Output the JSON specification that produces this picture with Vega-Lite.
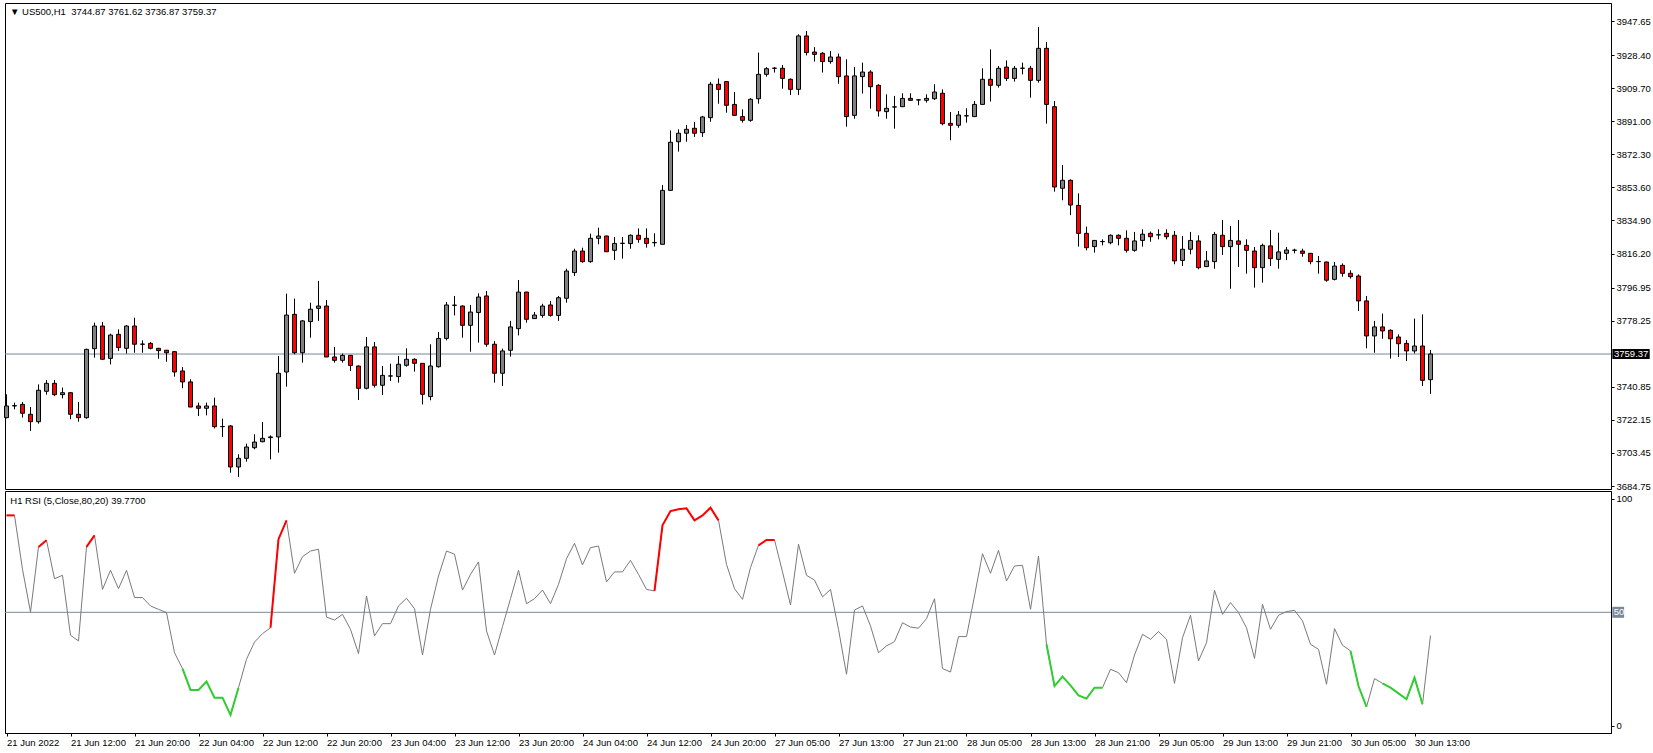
{
"$schema": "https://vega.github.io/schema/vega-lite/v6.json",
"padding": {"left": 2, "top": 2, "right": 0, "bottom": 0},
"bounds": "flush",
"background": "white",
"config": {
 "view": {"stroke": "black", "strokeWidth": 1},
 "font": "Liberation Sans",
 "scale": {"continuousPadding": 0},
 "axis": {"domainColor": "black", "tickColor": "black", "labelColor": "black", "labelFont": "Liberation Sans", "labelFontSize": 9.5, "grid": false, "title": null, "tickWidth": 1, "domainWidth": 1}
},
"data": {"values": [
{"i":0,"o":3723.4,"h":3736.6,"l":3723.0,"c":3730.0,"r":92.7,"z":"r1"},
{"i":1,"o":3730.0,"h":3731.9,"l":3728.1,"c":3730.2,"r":92.7,"z":"r1"},
{"i":2,"o":3730.9,"h":3732.2,"l":3723.4,"c":3725.9,"r":68.9},
{"i":3,"o":3725.3,"h":3729.4,"l":3715.9,"c":3721.1,"r":50.1},
{"i":4,"o":3721.1,"h":3742.2,"l":3720.0,"c":3738.9,"r":78.8,"z":"r2"},
{"i":5,"o":3738.3,"h":3744.7,"l":3736.4,"c":3742.8,"r":81.7,"z":"r2"},
{"i":6,"o":3742.8,"h":3744.7,"l":3735.6,"c":3736.4,"r":64.8},
{"i":7,"o":3736.4,"h":3740.4,"l":3734.3,"c":3737.5,"r":66.3},
{"i":8,"o":3737.5,"h":3737.8,"l":3722.5,"c":3725.3,"r":39.9},
{"i":9,"o":3725.3,"h":3732.2,"l":3721.1,"c":3723.4,"r":37.4},
{"i":10,"o":3723.4,"h":3762.4,"l":3722.8,"c":3762.0,"r":78.8,"z":"r3"},
{"i":11,"o":3762.4,"h":3777.1,"l":3757.3,"c":3775.2,"r":83.9,"z":"r3"},
{"i":12,"o":3775.2,"h":3777.5,"l":3756.4,"c":3756.4,"r":60.1},
{"i":13,"o":3756.9,"h":3770.9,"l":3753.5,"c":3770.1,"r":68.5},
{"i":14,"o":3770.5,"h":3773.3,"l":3761.1,"c":3763.0,"r":60.4},
{"i":15,"o":3762.6,"h":3775.8,"l":3759.6,"c":3775.2,"r":68.5},
{"i":16,"o":3775.2,"h":3779.9,"l":3760.1,"c":3764.9,"r":56.5},
{"i":17,"o":3764.9,"h":3767.1,"l":3760.1,"c":3765.0,"r":56.5},
{"i":18,"o":3765.4,"h":3766.2,"l":3762.0,"c":3762.6,"r":52.8},
{"i":19,"o":3762.6,"h":3762.8,"l":3756.7,"c":3761.3,"r":51.3},
{"i":20,"o":3761.5,"h":3761.7,"l":3755.0,"c":3760.1,"r":49.9},
{"i":21,"o":3760.7,"h":3761.1,"l":3746.6,"c":3749.2,"r":32.2},
{"i":22,"o":3749.8,"h":3752.0,"l":3740.0,"c":3743.6,"r":25.2,"z":"g1"},
{"i":23,"o":3743.6,"h":3745.1,"l":3729.4,"c":3729.4,"r":15.8,"z":"g1"},
{"i":24,"o":3730.0,"h":3731.9,"l":3724.3,"c":3728.7,"r":15.8,"z":"g1"},
{"i":25,"o":3728.7,"h":3731.9,"l":3724.7,"c":3730.0,"r":19.5,"z":"g1"},
{"i":26,"o":3730.0,"h":3734.7,"l":3717.3,"c":3718.3,"r":12.4,"z":"g1"},
{"i":27,"o":3718.3,"h":3722.8,"l":3712.5,"c":3718.4,"r":12.4,"z":"g1"},
{"i":28,"o":3718.7,"h":3719.2,"l":3692.3,"c":3695.5,"r":4.8,"z":"g1"},
{"i":29,"o":3695.5,"h":3702.7,"l":3689.9,"c":3700.4,"r":16.8,"z":"g1"},
{"i":30,"o":3700.4,"h":3708.7,"l":3698.5,"c":3706.8,"r":29.3},
{"i":31,"o":3706.4,"h":3714.0,"l":3705.5,"c":3709.6,"r":36.9},
{"i":32,"o":3709.8,"h":3720.9,"l":3709.5,"c":3711.7,"r":40.6},
{"i":33,"o":3712.1,"h":3713.4,"l":3699.8,"c":3712.5,"r":43.2,"z":"r4"},
{"i":34,"o":3712.5,"h":3758.3,"l":3703.6,"c":3748.5,"r":82.2,"z":"r4"},
{"i":35,"o":3749.2,"h":3793.5,"l":3740.9,"c":3781.4,"r":90.5,"z":"r4"},
{"i":36,"o":3781.8,"h":3790.7,"l":3759.2,"c":3760.1,"r":67.2},
{"i":37,"o":3760.1,"h":3778.6,"l":3754.5,"c":3778.1,"r":74.5},
{"i":38,"o":3777.7,"h":3788.4,"l":3768.6,"c":3784.7,"r":77.0},
{"i":39,"o":3785.2,"h":3800.7,"l":3778.1,"c":3786.5,"r":77.8},
{"i":40,"o":3786.5,"h":3789.9,"l":3757.7,"c":3757.7,"r":47.9},
{"i":41,"o":3757.7,"h":3763.4,"l":3754.5,"c":3755.8,"r":46.6},
{"i":42,"o":3755.8,"h":3759.6,"l":3754.5,"c":3758.6,"r":49.1},
{"i":43,"o":3758.6,"h":3758.8,"l":3749.8,"c":3752.9,"r":42.5},
{"i":44,"o":3752.6,"h":3752.9,"l":3733.4,"c":3740.0,"r":31.8},
{"i":45,"o":3740.0,"h":3769.0,"l":3739.4,"c":3763.4,"r":57.2},
{"i":46,"o":3763.4,"h":3766.2,"l":3740.4,"c":3741.7,"r":39.6},
{"i":47,"o":3741.7,"h":3752.6,"l":3736.2,"c":3747.3,"r":45.0},
{"i":48,"o":3746.9,"h":3753.9,"l":3744.1,"c":3747.0,"r":45.0},
{"i":49,"o":3746.6,"h":3758.3,"l":3743.2,"c":3753.6,"r":52.8},
{"i":50,"o":3753.0,"h":3762.6,"l":3752.2,"c":3756.4,"r":56.2},
{"i":51,"o":3756.4,"h":3756.9,"l":3749.4,"c":3754.1,"r":51.6},
{"i":52,"o":3754.1,"h":3754.3,"l":3730.9,"c":3736.6,"r":31.2},
{"i":53,"o":3735.3,"h":3764.9,"l":3733.2,"c":3752.6,"r":51.3},
{"i":54,"o":3752.2,"h":3771.8,"l":3751.7,"c":3768.2,"r":66.0},
{"i":55,"o":3768.2,"h":3788.8,"l":3767.1,"c":3787.1,"r":77.0},
{"i":56,"o":3786.9,"h":3792.2,"l":3781.2,"c":3787.0,"r":75.6},
{"i":57,"o":3786.5,"h":3786.9,"l":3768.6,"c":3775.6,"r":59.8},
{"i":58,"o":3775.6,"h":3787.1,"l":3760.7,"c":3783.1,"r":66.7},
{"i":59,"o":3782.8,"h":3793.7,"l":3765.8,"c":3791.6,"r":72.2},
{"i":60,"o":3792.2,"h":3795.0,"l":3763.5,"c":3764.9,"r":41.8},
{"i":61,"o":3764.9,"h":3766.7,"l":3743.2,"c":3748.5,"r":31.2},
{"i":62,"o":3748.5,"h":3762.4,"l":3741.3,"c":3761.1,"r":43.7},
{"i":63,"o":3761.5,"h":3778.1,"l":3757.9,"c":3774.7,"r":56.0},
{"i":64,"o":3773.7,"h":3801.2,"l":3769.9,"c":3794.4,"r":68.5},
{"i":65,"o":3794.4,"h":3794.6,"l":3777.1,"c":3779.0,"r":53.8},
{"i":66,"o":3779.4,"h":3783.1,"l":3779.2,"c":3781.4,"r":56.0},
{"i":67,"o":3781.2,"h":3787.8,"l":3779.9,"c":3786.5,"r":59.8},
{"i":68,"o":3787.1,"h":3789.4,"l":3780.5,"c":3781.2,"r":53.8},
{"i":69,"o":3781.2,"h":3792.2,"l":3778.1,"c":3791.2,"r":62.3},
{"i":70,"o":3790.9,"h":3807.6,"l":3788.4,"c":3806.3,"r":73.6},
{"i":71,"o":3805.4,"h":3818.9,"l":3803.5,"c":3817.6,"r":80.4},
{"i":72,"o":3817.6,"h":3819.5,"l":3811.0,"c":3811.6,"r":70.9},
{"i":73,"o":3811.6,"h":3827.4,"l":3811.0,"c":3824.8,"r":78.5},
{"i":74,"o":3824.8,"h":3830.8,"l":3821.4,"c":3826.1,"r":79.2},
{"i":75,"o":3826.1,"h":3826.3,"l":3817.2,"c":3817.2,"r":63.4},
{"i":76,"o":3818.0,"h":3825.5,"l":3812.5,"c":3821.9,"r":67.8},
{"i":77,"o":3821.9,"h":3825.5,"l":3813.3,"c":3822.0,"r":67.8},
{"i":78,"o":3821.8,"h":3827.0,"l":3818.9,"c":3826.5,"r":72.9},
{"i":79,"o":3826.5,"h":3830.4,"l":3822.3,"c":3824.2,"r":66.7},
{"i":80,"o":3824.8,"h":3830.4,"l":3819.5,"c":3821.9,"r":60.1},
{"i":81,"o":3822.3,"h":3827.6,"l":3820.1,"c":3822.4,"r":59.4,"z":"r5"},
{"i":82,"o":3821.4,"h":3854.9,"l":3821.2,"c":3851.9,"r":88.3,"z":"r5"},
{"i":83,"o":3851.9,"h":3885.8,"l":3851.7,"c":3879.1,"r":94.6,"z":"r5"},
{"i":84,"o":3879.4,"h":3886.4,"l":3873.8,"c":3884.2,"r":95.4,"z":"r5"},
{"i":85,"o":3884.2,"h":3888.9,"l":3879.4,"c":3886.4,"r":95.8,"z":"r5"},
{"i":86,"o":3887.0,"h":3890.6,"l":3882.1,"c":3884.2,"r":90.5,"z":"r5"},
{"i":87,"o":3884.5,"h":3894.0,"l":3882.1,"c":3893.4,"r":92.7,"z":"r5"},
{"i":88,"o":3893.0,"h":3913.2,"l":3890.7,"c":3911.9,"r":96.1,"z":"r5"},
{"i":89,"o":3911.9,"h":3915.2,"l":3900.9,"c":3909.0,"r":90.5,"z":"r5"},
{"i":90,"o":3913.4,"h":3913.6,"l":3895.8,"c":3900.0,"r":71.1},
{"i":91,"o":3900.5,"h":3907.5,"l":3894.3,"c":3894.3,"r":60.4},
{"i":92,"o":3893.6,"h":3897.7,"l":3890.2,"c":3891.5,"r":55.7},
{"i":93,"o":3891.5,"h":3904.0,"l":3890.7,"c":3903.4,"r":69.7},
{"i":94,"o":3903.7,"h":3929.8,"l":3900.9,"c":3917.5,"r":79.5,"z":"r6"},
{"i":95,"o":3917.5,"h":3921.6,"l":3916.2,"c":3920.7,"r":81.9,"z":"r6"},
{"i":96,"o":3920.9,"h":3921.6,"l":3918.5,"c":3921.0,"r":81.9,"z":"r6"},
{"i":97,"o":3920.9,"h":3922.8,"l":3909.4,"c":3915.2,"r":67.8},
{"i":98,"o":3914.7,"h":3915.2,"l":3905.8,"c":3909.0,"r":53.2},
{"i":99,"o":3909.0,"h":3940.1,"l":3905.8,"c":3939.2,"r":80.0},
{"i":100,"o":3939.2,"h":3942.0,"l":3928.2,"c":3929.8,"r":66.3},
{"i":101,"o":3930.1,"h":3932.9,"l":3924.7,"c":3928.8,"r":64.2},
{"i":102,"o":3929.4,"h":3930.1,"l":3918.5,"c":3924.7,"r":56.8},
{"i":103,"o":3924.7,"h":3930.7,"l":3923.5,"c":3927.3,"r":60.1},
{"i":104,"o":3927.3,"h":3929.2,"l":3912.2,"c":3916.2,"r":42.5},
{"i":105,"o":3916.6,"h":3926.0,"l":3887.9,"c":3893.6,"r":22.7},
{"i":106,"o":3894.3,"h":3921.6,"l":3892.4,"c":3916.6,"r":51.0},
{"i":107,"o":3916.2,"h":3924.1,"l":3906.6,"c":3918.8,"r":52.8},
{"i":108,"o":3918.8,"h":3919.8,"l":3898.1,"c":3910.5,"r":44.0},
{"i":109,"o":3911.3,"h":3911.9,"l":3893.6,"c":3896.8,"r":32.2},
{"i":110,"o":3896.4,"h":3906.2,"l":3892.4,"c":3898.3,"r":35.2},
{"i":111,"o":3899.0,"h":3905.3,"l":3886.8,"c":3899.1,"r":37.1},
{"i":112,"o":3899.2,"h":3906.8,"l":3899.0,"c":3903.9,"r":45.4},
{"i":113,"o":3903.9,"h":3906.8,"l":3902.8,"c":3902.8,"r":43.5},
{"i":114,"o":3903.0,"h":3903.3,"l":3900.0,"c":3903.1,"r":43.0},
{"i":115,"o":3902.8,"h":3906.2,"l":3901.5,"c":3903.9,"r":47.2},
{"i":116,"o":3903.7,"h":3911.9,"l":3903.0,"c":3907.5,"r":56.0},
{"i":117,"o":3906.8,"h":3909.0,"l":3888.7,"c":3889.6,"r":25.2},
{"i":118,"o":3889.8,"h":3896.2,"l":3880.2,"c":3888.7,"r":23.7},
{"i":119,"o":3888.7,"h":3896.8,"l":3887.3,"c":3894.5,"r":39.3},
{"i":120,"o":3894.0,"h":3898.3,"l":3890.2,"c":3894.1,"r":39.3},
{"i":121,"o":3893.6,"h":3902.4,"l":3893.4,"c":3900.5,"r":57.2},
{"i":122,"o":3900.5,"h":3920.9,"l":3900.3,"c":3914.7,"r":75.8},
{"i":123,"o":3914.7,"h":3931.6,"l":3902.1,"c":3911.3,"r":67.2},
{"i":124,"o":3911.3,"h":3922.2,"l":3910.0,"c":3920.9,"r":77.3},
{"i":125,"o":3921.6,"h":3925.4,"l":3913.7,"c":3915.2,"r":63.8},
{"i":126,"o":3915.2,"h":3922.2,"l":3913.4,"c":3920.9,"r":70.4},
{"i":127,"o":3920.9,"h":3924.1,"l":3917.5,"c":3921.0,"r":70.7},
{"i":128,"o":3920.9,"h":3922.2,"l":3904.3,"c":3914.1,"r":51.3},
{"i":129,"o":3914.1,"h":3944.3,"l":3912.8,"c":3932.2,"r":74.8},
{"i":130,"o":3932.2,"h":3935.8,"l":3889.6,"c":3900.5,"r":35.9,"z":"g2"},
{"i":131,"o":3899.2,"h":3902.4,"l":3851.2,"c":3853.8,"r":17.5,"z":"g2"},
{"i":132,"o":3853.1,"h":3866.2,"l":3846.3,"c":3857.6,"r":21.7,"z":"g2"},
{"i":133,"o":3857.6,"h":3858.1,"l":3837.9,"c":3843.6,"r":17.8,"z":"g2"},
{"i":134,"o":3843.4,"h":3850.2,"l":3820.1,"c":3827.6,"r":13.4,"z":"g2"},
{"i":135,"o":3827.6,"h":3831.4,"l":3818.0,"c":3819.5,"r":12.0,"z":"g2"},
{"i":136,"o":3820.1,"h":3823.8,"l":3816.7,"c":3823.6,"r":16.8,"z":"g2"},
{"i":137,"o":3822.9,"h":3824.2,"l":3820.8,"c":3823.0,"r":16.8,"z":"g2"},
{"i":138,"o":3822.3,"h":3827.0,"l":3821.4,"c":3826.5,"r":24.9},
{"i":139,"o":3826.5,"h":3827.0,"l":3820.8,"c":3824.8,"r":23.4},
{"i":140,"o":3824.8,"h":3829.3,"l":3816.7,"c":3818.0,"r":19.0},
{"i":141,"o":3818.0,"h":3828.4,"l":3817.2,"c":3823.3,"r":31.2},
{"i":142,"o":3823.6,"h":3829.9,"l":3820.1,"c":3827.1,"r":40.3},
{"i":143,"o":3827.6,"h":3828.6,"l":3822.9,"c":3825.7,"r":38.1},
{"i":144,"o":3826.7,"h":3829.9,"l":3824.2,"c":3826.8,"r":41.5},
{"i":145,"o":3827.6,"h":3829.9,"l":3824.2,"c":3825.7,"r":38.1},
{"i":146,"o":3826.5,"h":3828.9,"l":3810.1,"c":3812.0,"r":18.7},
{"i":147,"o":3812.3,"h":3826.1,"l":3809.1,"c":3818.6,"r":38.8},
{"i":148,"o":3818.6,"h":3828.4,"l":3815.7,"c":3823.6,"r":48.7},
{"i":149,"o":3823.3,"h":3826.5,"l":3807.3,"c":3808.2,"r":28.6},
{"i":150,"o":3808.8,"h":3817.6,"l":3808.6,"c":3812.0,"r":36.6},
{"i":151,"o":3811.6,"h":3828.4,"l":3807.6,"c":3827.0,"r":59.7},
{"i":152,"o":3826.5,"h":3835.1,"l":3815.4,"c":3820.1,"r":49.1},
{"i":153,"o":3820.1,"h":3831.8,"l":3796.3,"c":3823.6,"r":54.3},
{"i":154,"o":3823.3,"h":3835.1,"l":3808.6,"c":3821.4,"r":49.9},
{"i":155,"o":3820.8,"h":3824.2,"l":3804.8,"c":3818.0,"r":43.2},
{"i":156,"o":3817.6,"h":3819.9,"l":3796.9,"c":3808.2,"r":29.7},
{"i":157,"o":3808.2,"h":3821.8,"l":3799.7,"c":3820.8,"r":53.5},
{"i":158,"o":3820.5,"h":3829.5,"l":3809.1,"c":3813.3,"r":42.5},
{"i":159,"o":3812.9,"h":3828.0,"l":3807.6,"c":3817.1,"r":48.7},
{"i":160,"o":3816.3,"h":3819.9,"l":3812.5,"c":3818.2,"r":50.3},
{"i":161,"o":3818.0,"h":3818.9,"l":3816.3,"c":3818.1,"r":50.9},
{"i":162,"o":3817.6,"h":3818.9,"l":3814.4,"c":3816.3,"r":46.2},
{"i":163,"o":3816.3,"h":3816.5,"l":3810.1,"c":3811.6,"r":35.9},
{"i":164,"o":3811.6,"h":3814.8,"l":3804.8,"c":3811.7,"r":33.7},
{"i":165,"o":3811.4,"h":3811.6,"l":3800.3,"c":3801.1,"r":18.3},
{"i":166,"o":3801.6,"h":3811.4,"l":3801.0,"c":3809.1,"r":42.8},
{"i":167,"o":3809.5,"h":3810.6,"l":3803.1,"c":3805.0,"r":35.5},
{"i":168,"o":3805.0,"h":3806.7,"l":3802.0,"c":3803.1,"r":33.0,"z":"g3"},
{"i":169,"o":3803.5,"h":3804.4,"l":3783.7,"c":3789.4,"r":17.5,"z":"g3"},
{"i":170,"o":3789.4,"h":3792.2,"l":3762.6,"c":3769.6,"r":8.3,"z":"g3"},
{"i":171,"o":3769.6,"h":3778.1,"l":3760.1,"c":3774.7,"r":20.8},
{"i":172,"o":3774.7,"h":3782.2,"l":3768.0,"c":3772.4,"r":18.7,"z":"g4"},
{"i":173,"o":3772.8,"h":3773.3,"l":3756.8,"c":3768.0,"r":16.8,"z":"g4"},
{"i":174,"o":3769.0,"h":3770.5,"l":3757.7,"c":3765.2,"r":14.3,"z":"g4"},
{"i":175,"o":3765.4,"h":3767.3,"l":3755.4,"c":3761.1,"r":11.7,"z":"g4"},
{"i":176,"o":3761.1,"h":3779.4,"l":3759.7,"c":3763.9,"r":21.2,"z":"g4"},
{"i":177,"o":3763.9,"h":3781.8,"l":3741.3,"c":3744.5,"r":9.5,"z":"g4"},
{"i":178,"o":3744.87,"h":3761.62,"l":3736.87,"c":3759.37,"r":39.77}
]},
"spacing": 2,
"vconcat": [
 {
  "width": 1606, "height": 486,
  "layer": [
   {"transform": [{"filter": "datum.i == 178"}],
    "mark": {"type": "rule", "color": "#778899", "strokeWidth": 1},
    "encoding": {"y": {"field": "c", "type": "quantitative", "scale": {"domain": [3683.06, 3957.83], "nice": false, "zero": false, "padding": 0},
      "axis": {"orient": "right", "values": [3684.75, 3703.45, 3722.15, 3740.85, 3778.25, 3796.95, 3816.2, 3834.9, 3853.6, 3872.3, 3891.0, 3909.7, 3928.4, 3947.65], "format": ".2f", "tickSize": 3, "labelPadding": 2, "labelBaseline": "middle", "labelFlush": false, "labelOverlap": false}}}},
   {"mark": {"type": "rule", "color": "black", "strokeWidth": 1},
    "encoding": {"x": {"field": "i", "type": "quantitative", "scale": {"domain": [-0.1875, 200.5625], "nice": false, "zero": false, "padding": 0}, "axis": null},
      "y": {"field": "l", "type": "quantitative", "scale": {"domain": [3683.06, 3957.83], "nice": false, "zero": false, "padding": 0},
      "axis": {"orient": "right", "values": [3684.75, 3703.45, 3722.15, 3740.85, 3778.25, 3796.95, 3816.2, 3834.9, 3853.6, 3872.3, 3891.0, 3909.7, 3928.4, 3947.65], "format": ".2f", "tickSize": 3, "labelPadding": 2, "labelBaseline": "middle", "labelFlush": false, "labelOverlap": false}}, "y2": {"field": "h"}}},
   {"mark": {"type": "bar", "size": 4, "stroke": "black", "strokeWidth": 1, "orient": "vertical"},
    "encoding": {"x": {"field": "i", "type": "quantitative", "scale": {"domain": [-0.1875, 200.5625], "nice": false, "zero": false, "padding": 0}, "axis": null},
      "y": {"field": "o", "type": "quantitative", "scale": {"domain": [3683.06, 3957.83], "nice": false, "zero": false, "padding": 0},
      "axis": {"orient": "right", "values": [3684.75, 3703.45, 3722.15, 3740.85, 3778.25, 3796.95, 3816.2, 3834.9, 3853.6, 3872.3, 3891.0, 3909.7, 3928.4, 3947.65], "format": ".2f", "tickSize": 3, "labelPadding": 2, "labelBaseline": "middle", "labelFlush": false, "labelOverlap": false}}, "y2": {"field": "c"},
      "fill": {"condition": {"test": "datum.c < datum.o", "value": "#ff0000"}, "value": "#808080"}}},
   {"transform": [{"filter": "datum.i == 178"}],
    "mark": {"type": "bar", "size": 10, "color": "black", "orient": "horizontal"},
    "encoding": {"x": {"datum": 200.73, "type": "quantitative", "scale": {"domain": [-0.1875, 200.5625], "nice": false, "zero": false, "padding": 0}, "axis": null}, "x2": {"datum": 205.4},
      "y": {"field": "c", "type": "quantitative", "scale": {"domain": [3683.06, 3957.83], "nice": false, "zero": false, "padding": 0},
      "axis": {"orient": "right", "values": [3684.75, 3703.45, 3722.15, 3740.85, 3778.25, 3796.95, 3816.2, 3834.9, 3853.6, 3872.3, 3891.0, 3909.7, 3928.4, 3947.65], "format": ".2f", "tickSize": 3, "labelPadding": 2, "labelBaseline": "middle", "labelFlush": false, "labelOverlap": false}}}},
   {"transform": [{"filter": "datum.i == 178"}],
    "mark": {"type": "text", "align": "left", "baseline": "middle", "color": "white", "fontSize": 9.5, "font": "Liberation Sans"},
    "encoding": {"x": {"datum": 200.94, "type": "quantitative", "scale": {"domain": [-0.1875, 200.5625], "nice": false, "zero": false, "padding": 0}, "axis": null},
      "y": {"field": "c", "type": "quantitative", "scale": {"domain": [3683.06, 3957.83], "nice": false, "zero": false, "padding": 0},
      "axis": {"orient": "right", "values": [3684.75, 3703.45, 3722.15, 3740.85, 3778.25, 3796.95, 3816.2, 3834.9, 3853.6, 3872.3, 3891.0, 3909.7, 3928.4, 3947.65], "format": ".2f", "tickSize": 3, "labelPadding": 2, "labelBaseline": "middle", "labelFlush": false, "labelOverlap": false}},
      "text": {"field": "c", "type": "quantitative", "format": ".2f"}}},
   {"transform": [{"filter": "datum.i == 178"}],
    "mark": {"type": "text", "align": "left", "baseline": "middle", "color": "black", "fontSize": 9.5, "font": "Liberation Sans, DejaVu Sans"},
    "encoding": {"x": {"datum": 0.44, "type": "quantitative", "scale": {"domain": [-0.1875, 200.5625], "nice": false, "zero": false, "padding": 0}, "axis": null},
      "y": {"datum": 3953.0, "type": "quantitative", "scale": {"domain": [3683.06, 3957.83], "nice": false, "zero": false, "padding": 0},
      "axis": {"orient": "right", "values": [3684.75, 3703.45, 3722.15, 3740.85, 3778.25, 3796.95, 3816.2, 3834.9, 3853.6, 3872.3, 3891.0, 3909.7, 3928.4, 3947.65], "format": ".2f", "tickSize": 3, "labelPadding": 2, "labelBaseline": "middle", "labelFlush": false, "labelOverlap": false}},
      "text": {"value": "▼ US500,H1\u00a0 3744.87 3761.62 3736.87 3759.37"}}}
  ]
 },
 {
  "width": 1606, "height": 242,
  "layer": [
   {"transform": [{"filter": "datum.i == 178"}],
    "mark": {"type": "rule", "color": "#778899", "strokeWidth": 1},
    "encoding": {"y": {"datum": 50, "type": "quantitative", "scale": {"domain": [-3.17, 103.44], "nice": false, "zero": false, "padding": 0},
      "axis": {"orient": "right", "values": [0, 100], "tickSize": 3, "labelPadding": 2, "labelBaseline": "middle", "labelFlush": false, "labelOverlap": false}}}},
   {"mark": {"type": "line", "color": "#7a7a7a", "strokeWidth": 1},
    "encoding": {"x": {"field": "i", "type": "quantitative", "scale": {"domain": [-0.1875, 200.5625], "nice": false, "zero": false, "padding": 0},
      "axis": {"values": [0,8,16,24,32,40,48,56,64,72,80,88,96,104,112,120,128,136,144,152,160,168,176], "tickSize": 3, "labelPadding": 6, "labelAlign": "left", "labelBaseline": "middle", "labelDx": -1, "labelFlush": false, "labelOverlap": false, "labelBound": false,
       "labelExpr": "['21 Jun 2022','21 Jun 12:00','21 Jun 20:00','22 Jun 04:00','22 Jun 12:00','22 Jun 20:00','23 Jun 04:00','23 Jun 12:00','23 Jun 20:00','24 Jun 04:00','24 Jun 12:00','24 Jun 20:00','27 Jun 05:00','27 Jun 13:00','27 Jun 21:00','28 Jun 05:00','28 Jun 13:00','28 Jun 21:00','29 Jun 05:00','29 Jun 13:00','29 Jun 21:00','30 Jun 05:00','30 Jun 13:00'][round(datum.value/8)]"}},
      "y": {"field": "r", "type": "quantitative", "scale": {"domain": [-3.17, 103.44], "nice": false, "zero": false, "padding": 0},
      "axis": {"orient": "right", "values": [0, 100], "tickSize": 3, "labelPadding": 2, "labelBaseline": "middle", "labelFlush": false, "labelOverlap": false}}}},
   {"transform": [{"filter": {"field": "z", "oneOf": ["r1","r2","r3","r4","r5","r6"]}}],
    "mark": {"type": "line", "color": "#ff0000", "strokeWidth": 2},
    "encoding": {"x": {"field": "i", "type": "quantitative", "scale": {"domain": [-0.1875, 200.5625], "nice": false, "zero": false, "padding": 0},
      "axis": {"values": [0,8,16,24,32,40,48,56,64,72,80,88,96,104,112,120,128,136,144,152,160,168,176], "tickSize": 3, "labelPadding": 6, "labelAlign": "left", "labelBaseline": "middle", "labelDx": -1, "labelFlush": false, "labelOverlap": false, "labelBound": false,
       "labelExpr": "['21 Jun 2022','21 Jun 12:00','21 Jun 20:00','22 Jun 04:00','22 Jun 12:00','22 Jun 20:00','23 Jun 04:00','23 Jun 12:00','23 Jun 20:00','24 Jun 04:00','24 Jun 12:00','24 Jun 20:00','27 Jun 05:00','27 Jun 13:00','27 Jun 21:00','28 Jun 05:00','28 Jun 13:00','28 Jun 21:00','29 Jun 05:00','29 Jun 13:00','29 Jun 21:00','30 Jun 05:00','30 Jun 13:00'][round(datum.value/8)]"}},
      "y": {"field": "r", "type": "quantitative", "scale": {"domain": [-3.17, 103.44], "nice": false, "zero": false, "padding": 0},
      "axis": {"orient": "right", "values": [0, 100], "tickSize": 3, "labelPadding": 2, "labelBaseline": "middle", "labelFlush": false, "labelOverlap": false}}, "detail": {"field": "z"}}},
   {"transform": [{"filter": {"field": "z", "oneOf": ["g1","g2","g3","g4"]}}],
    "mark": {"type": "line", "color": "#32cd32", "strokeWidth": 2},
    "encoding": {"x": {"field": "i", "type": "quantitative", "scale": {"domain": [-0.1875, 200.5625], "nice": false, "zero": false, "padding": 0},
      "axis": {"values": [0,8,16,24,32,40,48,56,64,72,80,88,96,104,112,120,128,136,144,152,160,168,176], "tickSize": 3, "labelPadding": 6, "labelAlign": "left", "labelBaseline": "middle", "labelDx": -1, "labelFlush": false, "labelOverlap": false, "labelBound": false,
       "labelExpr": "['21 Jun 2022','21 Jun 12:00','21 Jun 20:00','22 Jun 04:00','22 Jun 12:00','22 Jun 20:00','23 Jun 04:00','23 Jun 12:00','23 Jun 20:00','24 Jun 04:00','24 Jun 12:00','24 Jun 20:00','27 Jun 05:00','27 Jun 13:00','27 Jun 21:00','28 Jun 05:00','28 Jun 13:00','28 Jun 21:00','29 Jun 05:00','29 Jun 13:00','29 Jun 21:00','30 Jun 05:00','30 Jun 13:00'][round(datum.value/8)]"}},
      "y": {"field": "r", "type": "quantitative", "scale": {"domain": [-3.17, 103.44], "nice": false, "zero": false, "padding": 0},
      "axis": {"orient": "right", "values": [0, 100], "tickSize": 3, "labelPadding": 2, "labelBaseline": "middle", "labelFlush": false, "labelOverlap": false}}, "detail": {"field": "z"}}},
   {"transform": [{"filter": "datum.i == 178"}],
    "mark": {"type": "bar", "size": 11, "color": "#778899", "orient": "horizontal"},
    "encoding": {"x": {"datum": 200.73, "type": "quantitative", "scale": {"domain": [-0.1875, 200.5625], "nice": false, "zero": false, "padding": 0},
      "axis": {"values": [0,8,16,24,32,40,48,56,64,72,80,88,96,104,112,120,128,136,144,152,160,168,176], "tickSize": 3, "labelPadding": 6, "labelAlign": "left", "labelBaseline": "middle", "labelDx": -1, "labelFlush": false, "labelOverlap": false, "labelBound": false,
       "labelExpr": "['21 Jun 2022','21 Jun 12:00','21 Jun 20:00','22 Jun 04:00','22 Jun 12:00','22 Jun 20:00','23 Jun 04:00','23 Jun 12:00','23 Jun 20:00','24 Jun 04:00','24 Jun 12:00','24 Jun 20:00','27 Jun 05:00','27 Jun 13:00','27 Jun 21:00','28 Jun 05:00','28 Jun 13:00','28 Jun 21:00','29 Jun 05:00','29 Jun 13:00','29 Jun 21:00','30 Jun 05:00','30 Jun 13:00'][round(datum.value/8)]"}}, "x2": {"datum": 202.2},
      "y": {"datum": 50, "type": "quantitative", "scale": {"domain": [-3.17, 103.44], "nice": false, "zero": false, "padding": 0},
      "axis": {"orient": "right", "values": [0, 100], "tickSize": 3, "labelPadding": 2, "labelBaseline": "middle", "labelFlush": false, "labelOverlap": false}}}},
   {"transform": [{"filter": "datum.i == 178"}],
    "mark": {"type": "text", "align": "left", "baseline": "middle", "color": "white", "fontSize": 9.5, "font": "Liberation Sans"},
    "encoding": {"x": {"datum": 200.9, "type": "quantitative", "scale": {"domain": [-0.1875, 200.5625], "nice": false, "zero": false, "padding": 0},
      "axis": {"values": [0,8,16,24,32,40,48,56,64,72,80,88,96,104,112,120,128,136,144,152,160,168,176], "tickSize": 3, "labelPadding": 6, "labelAlign": "left", "labelBaseline": "middle", "labelDx": -1, "labelFlush": false, "labelOverlap": false, "labelBound": false,
       "labelExpr": "['21 Jun 2022','21 Jun 12:00','21 Jun 20:00','22 Jun 04:00','22 Jun 12:00','22 Jun 20:00','23 Jun 04:00','23 Jun 12:00','23 Jun 20:00','24 Jun 04:00','24 Jun 12:00','24 Jun 20:00','27 Jun 05:00','27 Jun 13:00','27 Jun 21:00','28 Jun 05:00','28 Jun 13:00','28 Jun 21:00','29 Jun 05:00','29 Jun 13:00','29 Jun 21:00','30 Jun 05:00','30 Jun 13:00'][round(datum.value/8)]"}},
      "y": {"datum": 50, "type": "quantitative", "scale": {"domain": [-3.17, 103.44], "nice": false, "zero": false, "padding": 0},
      "axis": {"orient": "right", "values": [0, 100], "tickSize": 3, "labelPadding": 2, "labelBaseline": "middle", "labelFlush": false, "labelOverlap": false}},
      "text": {"value": "50"}}},
   {"transform": [{"filter": "datum.i == 178"}],
    "mark": {"type": "text", "align": "left", "baseline": "middle", "color": "black", "fontSize": 9.5, "font": "Liberation Sans"},
    "encoding": {"x": {"datum": 0.475, "type": "quantitative", "scale": {"domain": [-0.1875, 200.5625], "nice": false, "zero": false, "padding": 0},
      "axis": {"values": [0,8,16,24,32,40,48,56,64,72,80,88,96,104,112,120,128,136,144,152,160,168,176], "tickSize": 3, "labelPadding": 6, "labelAlign": "left", "labelBaseline": "middle", "labelDx": -1, "labelFlush": false, "labelOverlap": false, "labelBound": false,
       "labelExpr": "['21 Jun 2022','21 Jun 12:00','21 Jun 20:00','22 Jun 04:00','22 Jun 12:00','22 Jun 20:00','23 Jun 04:00','23 Jun 12:00','23 Jun 20:00','24 Jun 04:00','24 Jun 12:00','24 Jun 20:00','27 Jun 05:00','27 Jun 13:00','27 Jun 21:00','28 Jun 05:00','28 Jun 13:00','28 Jun 21:00','29 Jun 05:00','29 Jun 13:00','29 Jun 21:00','30 Jun 05:00','30 Jun 13:00'][round(datum.value/8)]"}},
      "y": {"datum": 99.2, "type": "quantitative", "scale": {"domain": [-3.17, 103.44], "nice": false, "zero": false, "padding": 0},
      "axis": {"orient": "right", "values": [0, 100], "tickSize": 3, "labelPadding": 2, "labelBaseline": "middle", "labelFlush": false, "labelOverlap": false}},
      "text": {"value": "H1 RSI (5,Close,80,20) 39.7700"}}}
  ]
 }
]
}
